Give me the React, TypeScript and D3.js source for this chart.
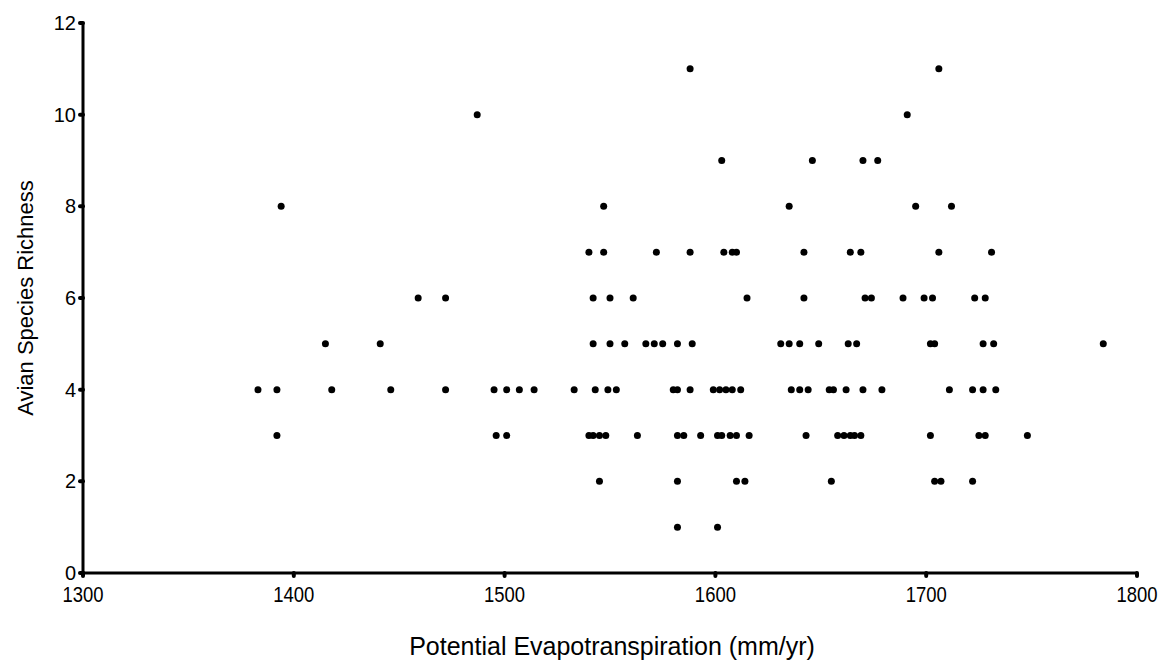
import React from "react";
import * as d3 from "d3";

// Potential evapotranspiration (mm/yr) values grouped by avian species richness
const pet11 = [1588, 1706];
const pet10 = [1487, 1691];
const pet9 = [1603, 1646, 1670, 1677];
const pet8 = [1394, 1547, 1635, 1695, 1712];
const pet7 = [1540, 1547, 1572, 1588, 1604, 1608, 1610, 1642, 1664, 1669, 1706, 1731];
const pet6 = [1459, 1472, 1542, 1550, 1561, 1615, 1642, 1671, 1674, 1689, 1699, 1703, 1723, 1728];
const pet5 = [1415, 1441, 1542, 1550, 1557, 1567, 1571, 1575, 1582, 1589, 1631, 1635, 1640, 1649, 1663, 1667, 1702, 1704, 1727, 1732, 1784];
const pet4 = [1383, 1392, 1418, 1446, 1472, 1495, 1501, 1507, 1514, 1533, 1543, 1549, 1553, 1580, 1582, 1588, 1599, 1602, 1605, 1608, 1612, 1636, 1640, 1644, 1654, 1656, 1662, 1670, 1679, 1711, 1722, 1727, 1733];
const pet3 = [1392, 1496, 1501, 1540, 1542, 1545, 1548, 1563, 1582, 1585, 1593, 1601, 1603, 1607, 1610, 1616, 1643, 1658, 1661, 1664, 1666, 1669, 1702, 1725, 1728, 1748];
const pet2 = [1545, 1582, 1610, 1614, 1655, 1704, 1707, 1722];
const pet1 = [1582, 1601];

const richnessLevels = [11, 10, 9, 8, 7, 6, 5, 4, 3, 2, 1];
const petByLevel = [pet11, pet10, pet9, pet8, pet7, pet6, pet5, pet4, pet3, pet2, pet1];

const xTicks = [1300, 1400, 1500, 1600, 1700, 1800];
const yTicks = [0, 2, 4, 6, 8, 10, 12];

const xTitle = "Potential Evapotranspiration  (mm/yr)";
const yTitle = "Avian Species Richness";

export default function App() {
  const W = 1162;
  const H = 669;
  const x = d3.scaleLinear().domain([1300, 1800]).range([83, 1137]);
  const y = d3.scaleLinear().domain([0, 12]).range([573, 23]);

  const points: { px: number; r: number }[] = [];
  richnessLevels.forEach((r, i) => {
    petByLevel[i].forEach((p) => points.push({ px: p, r }));
  });

  const font = "Arial, 'Liberation Sans', Helvetica, sans-serif";

  return (
    <svg
      width={W}
      height={H}
      style={{ position: "absolute", left: 0, top: 0, background: "#fff" }}
      fontFamily={font}
    >
      <rect x={0} y={0} width={W} height={H} fill="#fff" />
      {/* axes */}
      <line x1={x(1300)} x2={x(1300)} y1={y(12)} y2={y(0) + 1.5} stroke="#000" strokeWidth={3} />
      <line x1={x(1300) - 1.5} x2={x(1800)} y1={y(0)} y2={y(0)} stroke="#000" strokeWidth={3} />
      {/* y ticks */}
      {yTicks.map((t) => (
        <g key={"y" + t}>
          <line x1={x(1300) - 3} x2={x(1300)} y1={y(t)} y2={y(t)} stroke="#000" strokeWidth={4} strokeLinecap="round" />
          <text x={76} y={y(t)} dy="0.35em" textAnchor="end" fontSize={20} fill="#000">
            {t}
          </text>
        </g>
      ))}
      {/* x ticks */}
      {xTicks.map((t) => (
        <g key={"x" + t}>
          <line x1={x(t)} x2={x(t)} y1={y(0)} y2={y(0) + 3} stroke="#000" strokeWidth={4} strokeLinecap="round" />
          <text
            transform={`translate(${x(t)}, 602) scale(0.84, 1)`}
            textAnchor="middle"
            fontSize={22}
            fill="#000"
          >
            {t}
          </text>
        </g>
      ))}
      {/* points */}
      {points.map((d, i) => (
        <circle key={i} cx={x(d.px)} cy={y(d.r)} r={3.5} fill="#000" />
      ))}
      {/* titles */}
      <text x={612} y={655} textAnchor="middle" fontSize={25} fill="#000">
        {xTitle}
      </text>
      <text
        transform={`translate(33, 298) rotate(-90)`}
        textAnchor="middle"
        fontSize={22}
        fill="#000"
      >
        {yTitle}
      </text>
    </svg>
  );
}
